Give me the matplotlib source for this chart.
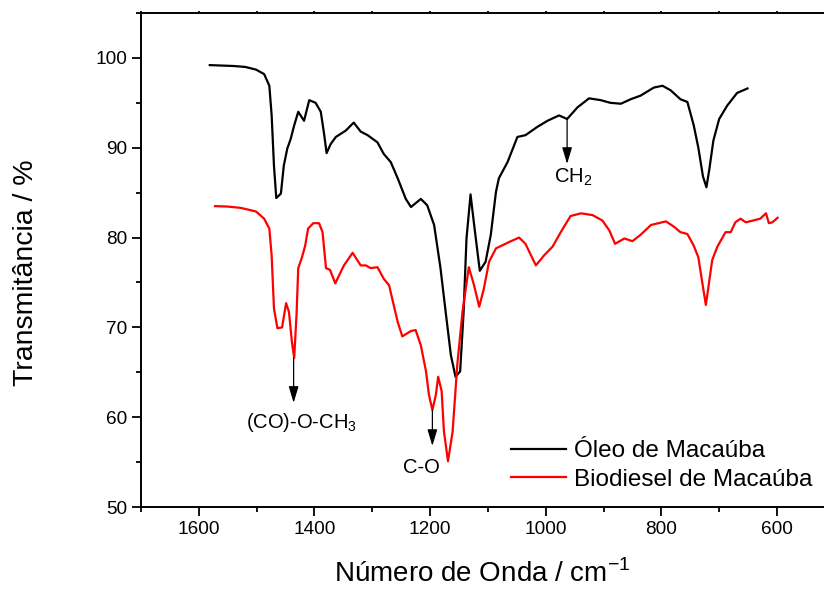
import matplotlib
matplotlib.use("Agg")
import matplotlib.pyplot as plt
from matplotlib.ticker import MultipleLocator

plt.rcParams['font.family'] = ['Liberation Sans', 'DejaVu Sans']

# Óleo de Macaúba (wavenumber / cm-1, transmittance / %)
oleo_x = [1581, 1560, 1540, 1520, 1501, 1487, 1478, 1474, 1470, 1466, 1458, 1453, 1447,
          1441, 1435, 1428, 1418, 1409, 1398, 1389, 1383, 1379, 1372, 1363, 1346, 1332,
          1320, 1308, 1291, 1280, 1268, 1256, 1242, 1233, 1216, 1205, 1193, 1182, 1173,
          1164, 1156, 1148, 1142, 1137, 1130, 1123, 1114, 1104, 1095, 1086, 1081, 1066,
          1049, 1035, 1015, 997, 977, 963, 945, 925, 905, 888, 870, 853, 836, 813, 798,
          784, 767, 755, 744, 736, 728, 722, 717, 710, 700, 686, 669, 651]
oleo_y = [99.2, 99.15, 99.1, 99.0, 98.7, 98.2, 96.9, 93.6, 88.0, 84.4, 84.9, 88.0, 89.9,
          91.0, 92.5, 94.0, 93.0, 95.3, 95.0, 94.0, 91.4, 89.4, 90.4, 91.2, 91.9, 92.8,
          91.8, 91.4, 90.6, 89.3, 88.4, 86.6, 84.3, 83.4, 84.3, 83.6, 81.4, 76.6, 71.7,
          66.9, 64.5, 65.1, 71.7, 79.9, 84.8, 81.0, 76.3, 77.3, 80.3, 85.1, 86.6, 88.4,
          91.2, 91.4, 92.3, 93.0, 93.6, 93.2, 94.5, 95.5, 95.3, 95.0, 94.9, 95.4, 95.8, 96.7, 96.9,
          96.4, 95.4, 95.1, 92.5, 90.0, 86.8, 85.6, 87.6, 90.8, 93.2, 94.7, 96.1, 96.6]

# Biodiesel de Macaúba
bio_x = [1572, 1550, 1527, 1501, 1487, 1478, 1474, 1470, 1464, 1456, 1449, 1444, 1439,
         1435, 1431, 1428, 1422, 1416, 1411, 1402, 1392, 1386, 1380, 1373, 1364, 1349,
         1334, 1320, 1311, 1303, 1291, 1280, 1271, 1256, 1248, 1233, 1225, 1216, 1207,
         1202, 1196, 1190, 1186, 1180, 1176, 1169, 1161, 1153, 1144, 1133, 1124, 1115,
         1107, 1098, 1086, 1060, 1046, 1035, 1017, 1003, 988, 974, 957, 939, 919, 902,
         890, 880, 864, 850, 836, 818, 792, 778, 767, 755, 744, 736, 728, 723, 719, 712,
         703, 689, 680, 672, 663, 654, 641, 629, 619, 614, 608, 599]
bio_y = [83.5, 83.45, 83.3, 82.9, 82.1, 81.0, 78.0, 72.1, 69.9, 70.0, 72.7, 71.7, 68.4,
         66.6, 71.4, 76.6, 77.7, 79.1, 81.0, 81.6, 81.6, 80.6, 76.6, 76.4, 74.9, 76.9,
         78.3, 76.9, 76.9, 76.6, 76.7, 75.4, 74.7, 70.6, 69.0, 69.6, 69.7, 68.0, 65.1,
         62.5, 60.8, 62.5, 64.5, 62.9, 58.4, 55.1, 58.4, 65.8, 71.7, 76.7, 74.7, 72.3,
         74.3, 77.3, 78.8, 79.6, 80.0, 79.3, 76.9, 78.0, 79.0, 80.6, 82.4, 82.7, 82.5, 81.9,
         80.8, 79.3, 79.9, 79.6, 80.3, 81.4, 81.8, 81.2, 80.6, 80.4, 79.1, 77.8, 74.5, 72.5,
         74.3, 77.5, 79.0, 80.6, 80.6, 81.7, 82.1, 81.7, 81.9, 82.1, 82.7, 81.6, 81.7, 82.2]

fig = plt.figure(figsize=(8.24, 5.89), dpi=100)
ax = fig.add_axes([0.1711, 0.1392, 0.842, 0.8387])

ax.plot(oleo_x, oleo_y, color='black', lw=1.6, solid_joinstyle='round', label='Óleo de Macaúba')
ax.plot(bio_x, bio_y, color='red', lw=1.6, solid_joinstyle='round', label='Biodiesel de Macaúba')

ax.set_xlim(1700, 500)
ax.set_ylim(50, 105)
ax.xaxis.set_major_locator(MultipleLocator(200))
ax.xaxis.set_minor_locator(MultipleLocator(100))
ax.set_yticks([50, 60, 70, 80, 90, 100])
ax.yaxis.set_minor_locator(MultipleLocator(5))
ax.tick_params(axis='both', which='major', labelsize=13.7, length=6.5, width=1.3, direction='out')
ax.tick_params(axis='both', which='minor', length=3.5, width=1.3, direction='out')
ax.tick_params(axis='x', which='both', top=True)
# very short ticks on the top spine
for t in ax.xaxis.get_ticklines(minor=False)[1::2] + ax.xaxis.get_ticklines(minor=True)[1::2]:
    t.set_markersize(1.2)
for s in ax.spines.values():
    s.set_linewidth(1.4)

ax.set_xlabel('Número de Onda / cm$^{\\mathregular{-1}}$', fontsize=20)
ax.xaxis.set_label_coords(0.492, -0.106)
ax.set_ylabel('Transmitância / %', fontsize=20.5)
ax.yaxis.set_label_coords(-0.147, 0.474)

# annotations
arrow = dict(arrowstyle='-|>,head_length=1.0,head_width=0.3', color='black', lw=0.9,
             mutation_scale=10, shrinkA=0, shrinkB=0)
ax.annotate('', xy=(963, 88.2), xytext=(963, 93.2), arrowprops=arrow)
ax.text(952, 86.7, 'CH$_\\mathregular{2}$', ha='center', va='center', fontsize=14.5)
ax.annotate('', xy=(1436, 61.6), xytext=(1436, 66.6), arrowprops=arrow)
ax.text(1423, 59.4, '(CO)-O-CH$_\\mathregular{3}$', ha='center', va='center', fontsize=14.5)
ax.annotate('', xy=(1196, 56.8), xytext=(1196, 60.8), arrowprops=arrow)
ax.text(1215, 54.4, 'C-O', ha='center', va='center', fontsize=14.5)

ax.legend(loc='upper left', bbox_to_anchor=(0.520, 0.155), frameon=False, fontsize=17.5,
          handlelength=2.26, handletextpad=0.33, labelspacing=0.27, borderaxespad=0)

fig.savefig('out.png', dpi=100)
